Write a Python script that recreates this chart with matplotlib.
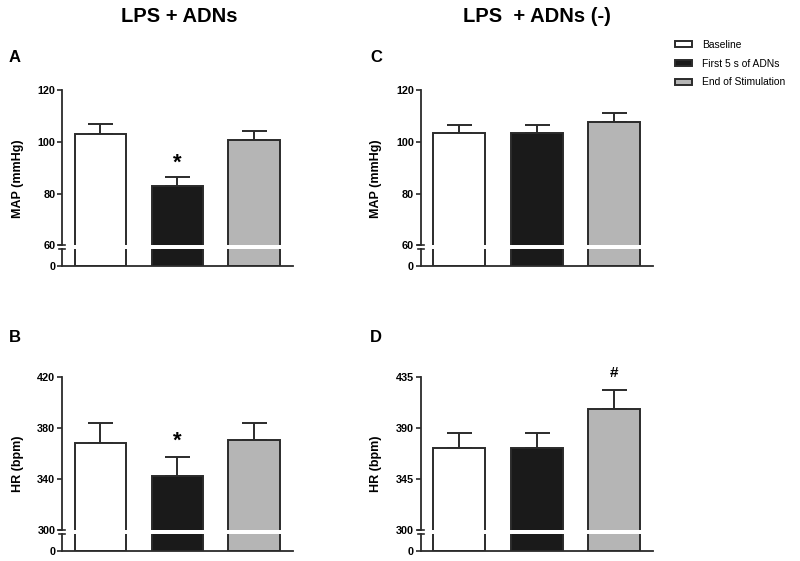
import matplotlib
matplotlib.use("Agg")
import matplotlib.pyplot as plt
from matplotlib.patches import Patch

plt.rcParams["font.family"] = ["Liberation Sans", "DejaVu Sans"]

# --- data ---
groups = ["Baseline", "First 5 s of ADNs", "End of Stimulation"]

map_lps_adns = [103.0, 82.8, 100.6]
map_lps_adns_err = [4.0, 3.4, 3.4]
hr_lps_adns = [367.8, 342.0, 370.4]
hr_lps_adns_err = [16.0, 15.5, 13.5]

map_lps_adns_neg = [103.5, 103.2, 107.6]
map_lps_adns_neg_err = [3.0, 3.2, 3.5]
hr_lps_adns_neg = [372.5, 372.2, 406.4]
hr_lps_adns_neg_err = [13.0, 13.0, 16.5]

map_ticks = [60, 80, 100, 120]
hr_ticks_b = [300, 340, 380, 420]
hr_ticks_d = [300, 345, 390, 435]

colors = ["white", "#1a1a1a", "#b5b5b5"]
edge = "#2b2b2b"

W, H = 800, 561
fig = plt.figure(figsize=(W / 100, H / 100), dpi=100)


def px_axes(x0, x1, ytop, ybot):
    return fig.add_axes([x0 / W, 1 - ybot / H, (x1 - x0) / W, (ybot - ytop) / H])


def panel(x0, x1, ytop, ybreak, ybot, vals, errs, ticks, ylabel):
    top = px_axes(x0, x1, ytop, ybreak)
    bot = px_axes(x0, x1, ybreak + 3.7, ybot)
    xs = range(len(vals))
    for ax in (top, bot):
        ax.bar(xs, vals, width=0.67, color=colors, edgecolor=edge, linewidth=1.4, zorder=2)
        ax.set_xlim(-0.5, 2.5)
        ax.set_xticks([])
        for s in ("top", "right"):
            ax.spines[s].set_visible(False)
        ax.spines["left"].set_linewidth(1.3)
        ax.spines["left"].set_color(edge)
        ax.tick_params(axis="y", length=3.8, width=1.2, color=edge, labelsize=7.8, pad=1)
    top.errorbar(xs, vals, yerr=[[0] * 3, errs], fmt="none", ecolor=edge,
                 elinewidth=1.4, capsize=9, capthick=1.4, zorder=1)
    top.set_ylim(ticks[0], ticks[-1])
    top.set_yticks(ticks)
    top.set_yticklabels([str(t) for t in ticks], fontweight="bold")
    top.spines["bottom"].set_visible(False)
    top.set_ylabel(ylabel, fontsize=9, fontweight="bold")
    top.yaxis.set_label_coords(-0.165, 0.43)
    bot.set_ylim(0, 1)
    bot.set_yticks([0])
    bot.set_yticklabels(["0"], fontweight="bold")
    bot.spines["bottom"].set_linewidth(1.3)
    bot.spines["bottom"].set_color(edge)
    bot.set_xlim(-0.5, 2.5)
    # break marks
    bot.plot([-0.013, 0.013], [1, 1], transform=bot.transAxes, color=edge,
             lw=1.2, clip_on=False)
    top.plot([-0.013, 0.013], [0, 0], transform=top.transAxes, color=edge,
             lw=1.2, clip_on=False)
    return top


ax_a = panel(62, 292.7, 90, 245.3, 265.7, map_lps_adns, map_lps_adns_err, map_ticks, "MAP (mmHg)")
ax_b = panel(62, 292.7, 376.7, 530, 551, hr_lps_adns, hr_lps_adns_err, hr_ticks_b, "HR (bpm)")
ax_c = panel(420.7, 652.7, 90, 245.3, 265.7, map_lps_adns_neg, map_lps_adns_neg_err, map_ticks, "MAP (mmHg)")
ax_d = panel(420.7, 652.7, 376.7, 530, 551, hr_lps_adns_neg, hr_lps_adns_neg_err, hr_ticks_d, "HR (bpm)")

# significance marks
ax_a.text(1, map_lps_adns[1] + map_lps_adns_err[1] + 5.5, "*", ha="center", va="center",
          fontsize=16, fontweight="bold")
ax_b.text(1, hr_lps_adns[1] + hr_lps_adns_err[1] + 12, "*", ha="center", va="center",
          fontsize=16, fontweight="bold")
ax_d.text(2, hr_lps_adns_neg[2] + hr_lps_adns_neg_err[2] + 15, "#", ha="center", va="center",
          fontsize=11, fontweight="bold")

# titles and panel letters
fig.text(179 / W, 1 - 17 / H, "LPS + ADNs", ha="center", va="center", fontsize=14.5, fontweight="bold")
fig.text(537 / W, 1 - 17 / H, "LPS  + ADNs (-)", ha="center", va="center", fontsize=14.5, fontweight="bold")
for letter, x, y in [("A", 15, 57), ("B", 15, 338), ("C", 376, 57), ("D", 376, 338)]:
    fig.text(x / W, 1 - y / H, letter, ha="center", va="center", fontsize=12, fontweight="bold")

handles = [Patch(facecolor=c, edgecolor=edge, linewidth=1.4) for c in colors]
fig.legend(handles, groups, loc="upper left", bbox_to_anchor=(675 / W, 1 - 40 / H),
           frameon=False, fontsize=7.4, handlelength=1.7, handleheight=0.5,
           handletextpad=0.9, labelspacing=0.85, borderaxespad=0, borderpad=0)

fig.savefig("out.png", dpi=100)
